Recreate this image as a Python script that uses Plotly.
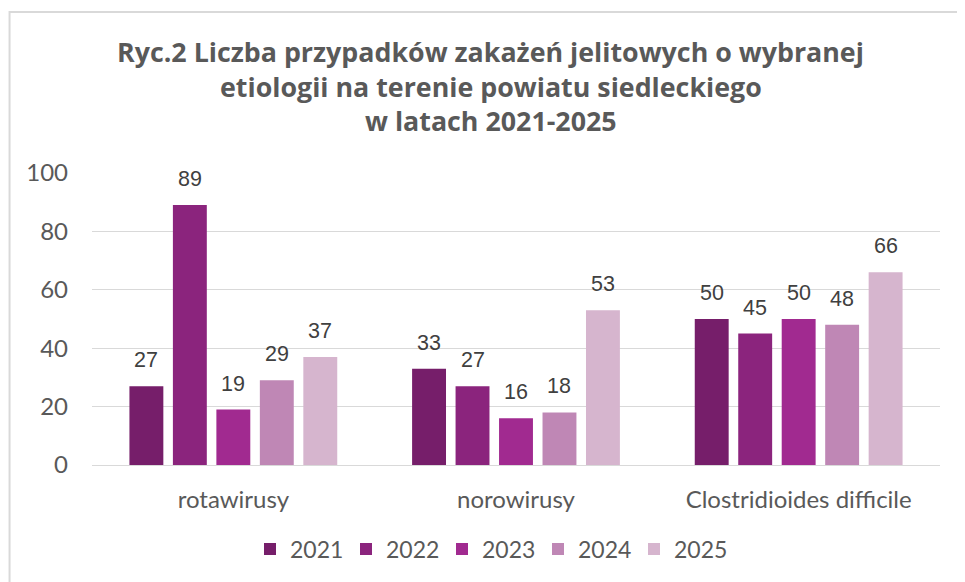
import plotly.graph_objects as go

categories = ["rotawirusy", "norowirusy", "Clostridioides difficile"]
years = ["2021", "2022", "2023", "2024", "2025"]
values_2021 = [27, 33, 50]
values_2022 = [89, 27, 45]
values_2023 = [19, 16, 50]
values_2024 = [29, 18, 48]
values_2025 = [37, 53, 66]
series = [values_2021, values_2022, values_2023, values_2024, values_2025]
colors = ["#761E6A", "#8B247D", "#A12A90", "#BF87B5", "#D6B5CE"]
title_lines = [
    "Ryc.2 Liczba przypadków zakażeń jelitowych o wybranej",
    "etiologii na terenie powiatu siedleckiego",
    "w latach 2021-2025",
]

W, H = 965, 582
ML, MR, MT, MB = 84, 32.5, 165, 125
PW = W - ML - MR
PH = H - MT - MB
BARGAP = 0.231
slot_px = PW / len(categories) * (1 - BARGAP) / len(years)

fig = go.Figure()
for yr, vals, col in zip(years, series, colors):
    fig.add_trace(go.Bar(name=yr, x=categories, y=vals, marker_color=col,
                         marker_line_width=0))

annotations = []
for i, vals in enumerate(series):
    for cat, v in zip(categories, vals):
        annotations.append(dict(
            x=cat, y=v, xref="x", yref="y", text=str(v), showarrow=False,
            yanchor="bottom", xanchor="center",
            xshift=(i - (len(years) - 1) / 2) * slot_px, yshift=12,
            font=dict(family="Liberation Sans, Arial", size=21.5, color="#404040"),
        ))

title_y_px = [43, 78, 113]
for line, ypx in zip(title_lines, title_y_px):
    annotations.append(dict(
        x=(483 - ML) / PW, y=(H - MB - ypx) / PH, xref="paper", yref="paper",
        text="<b>" + line + "</b>", showarrow=False, xanchor="center", yanchor="middle",
        font=dict(family="Open Sans", size=26.8, color="#595959"),
    ))

fig.update_layout(
    width=W, height=H, autosize=False,
    margin=dict(l=ML, r=MR, t=MT, b=MB),
    paper_bgcolor="white", plot_bgcolor="white",
    barmode="group", bargap=BARGAP, bargroupgap=0.22,
    annotations=annotations,
    showlegend=True,
    legend=dict(orientation="h", xref="container", yref="container",
                x=242 / W, xanchor="left", y=1 - 541 / H, yanchor="middle",
                font=dict(family="Lato", size=23, color="#595959"),
                traceorder="normal", itemwidth=30, entrywidth=51),
    shapes=[dict(type="rect", xref="paper", yref="paper",
                 x0=(1.5 - ML) / PW, x1=2.0, y0=-2.0, y1=(H - MB - 4) / PH,
                 line=dict(color="#D9D9D9", width=2), fillcolor="rgba(0,0,0,0)",
                 layer="below")],
)
fig.update_yaxes(range=[0, 100], tickvals=[0, 20, 40, 60, 80, 100],
                 showgrid=True, gridcolor="#D9D9D9", gridwidth=1.3,
                 zeroline=False, showline=False, ticks="",
                 ticklabelstandoff=23,
                 tickfont=dict(family="Lato", size=24, color="#595959"))
fig.update_xaxes(showline=True, linecolor="#D9D9D9", linewidth=1.3, ticks="",
                 ticklabelstandoff=13,
                 tickfont=dict(family="Lato", size=24, color="#595959"))

fig.write_html("out.html")
